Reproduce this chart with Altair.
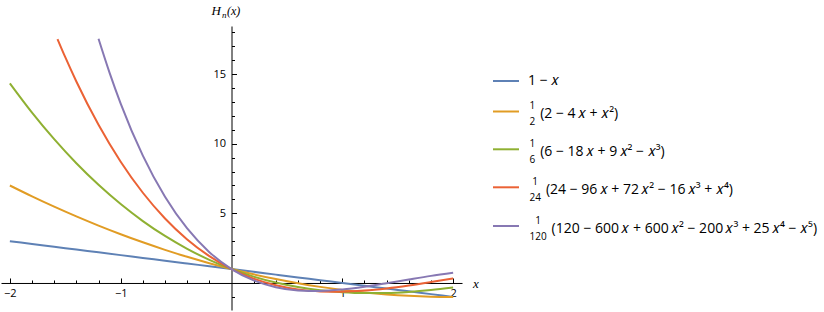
import altair as alt
import pandas as pd

# ---------------- data ----------------
x_grid = [-2.0, -1.8, -1.6, -1.4, -1.2, -1.0, -0.8, -0.6, -0.4, -0.2, 0.0,
          0.2, 0.4, 0.6, 0.8, 1.0, 1.2, 1.4, 1.6, 1.8, 2.0]
l1 = [3.0, 2.8, 2.6, 2.4, 2.2, 2.0, 1.8, 1.6, 1.4, 1.2, 1.0,
      0.8, 0.6, 0.4, 0.2, 0.0, -0.2, -0.4, -0.6, -0.8, -1.0]
l2 = [7.0, 6.22, 5.48, 4.78, 4.12, 3.5, 2.92, 2.38, 1.88, 1.42, 1.0,
      0.62, 0.28, -0.02, -0.28, -0.5, -0.68, -0.82, -0.92, -0.98, -1.0]
l3 = [14.333, 12.232, 10.323, 8.597, 7.048, 5.667, 4.445, 3.376, 2.451, 1.661, 1.0,
      0.459, 0.029, -0.296, -0.525, -0.667, -0.728, -0.717, -0.643, -0.512, -0.333]
x_l4 = [-1.57, -1.5, -1.4, -1.2, -1.0, -0.8, -0.6, -0.4, -0.2, 0.0,
        0.2, 0.4, 0.6, 0.8, 1.0, 1.2, 1.4, 1.6, 1.8, 2.0]
l4 = [17.51, 16.211, 14.469, 11.358, 8.708, 6.478, 4.629, 3.124, 1.925, 1.0,
      0.315, -0.162, -0.459, -0.604, -0.625, -0.546, -0.389, -0.178, 0.069, 0.333]
x_l5 = [-1.2, -1.1, -1.0, -0.8, -0.6, -0.4, -0.2, 0.0,
        0.2, 0.4, 0.6, 0.8, 1.0, 1.2, 1.4, 1.6, 1.8, 2.0]
l5 = [17.533, 15.087, 12.883, 9.141, 6.188, 3.912, 2.214, 1.0,
      0.187, -0.301, -0.534, -0.571, -0.467, -0.269, -0.018, 0.251, 0.510, 0.733]

series_ids = ["n1", "n2", "n3", "n4", "n5"]
colors = ["#5E81B5", "#E19C24", "#8FB032", "#EB6235", "#8778B3"]
legend_num = ["", "1", "1", "1", "1"]
legend_den = ["", "2", "6", "24", "120"]
X = "\u2009\U0001D465"
legend_expr = [
    "1 \u2212 \U0001D465",
    "(2 \u2212 4" + X + " + \U0001D465\u00b2)",
    "(6 \u2212 18" + X + " + 9" + X + "\u00b2 \u2212 \U0001D465\u00b3)",
    "(24 \u2212 96" + X + " + 72" + X + "\u00b2 \u2212 16" + X + "\u00b3 + \U0001D465\u2074)",
    "(120 \u2212 600" + X + " + 600" + X + "\u00b2 \u2212 200" + X + "\u00b3 + 25" + X + "\u2074 \u2212 \U0001D465\u2075)",
]
x_major = [-2, -1, 1, 2]
x_minor = [-1.8, -1.6, -1.4, -1.2, -0.8, -0.6, -0.4, -0.2,
           0.2, 0.4, 0.6, 0.8, 1.2, 1.4, 1.6, 1.8]
y_major = [5, 10, 15]
y_minor = [-1, 1, 2, 3, 4, 6, 7, 8, 9, 11, 12, 13, 14, 16, 17, 18]

rows = []
for sid, xs_, ys_ in zip(series_ids, [x_grid, x_grid, x_grid, x_l4, x_l5], [l1, l2, l3, l4, l5]):
    for a, b in zip(xs_, ys_):
        rows.append({"series": sid, "x": a, "y": b})
df = pd.DataFrame(rows)

# ---------------- geometry ----------------
XMIN, XMAX = -2.08, 2.08
YMIN, YMAX = -1.94, 18.45
W, H = 461, 284
PL, PT = 1, 26
x0 = (0 - XMIN) / (XMAX - XMIN) * W
y0 = H - (0 - YMIN) / (YMAX - YMIN) * H

xs = alt.Scale(domain=[XMIN, XMAX], nice=False, zero=False)
ys = alt.Scale(domain=[YMIN, YMAX], nice=False, zero=False)

FONT = "Open Sans"
SERIF = "Liberation Serif"

lines = alt.Chart(df).mark_line(strokeWidth=2, interpolate="monotone").encode(
    x=alt.X("x:Q", scale=xs, axis=None),
    y=alt.Y("y:Q", scale=ys, axis=None),
    color=alt.Color("series:N", scale=alt.Scale(domain=series_ids, range=colors), legend=None),
)

base = alt.Chart(df).mark_point(opacity=0)
common = dict(grid=False, title=None, domainColor="black", tickColor="black",
              domainWidth=1, tickWidth=1)

axis_labels = base.encode(
    x=alt.X("x:Q", scale=xs, axis=alt.Axis(
        orient="bottom", offset=y0 - H, values=x_major, ticks=False, domain=False,
        labelPadding=5, labelFont=FONT, labelFontSize=11, labelColor="black",
        labelFlush=False, labelOverlap=False, **common)),
    y=alt.Y("y:Q", scale=ys, axis=alt.Axis(
        orient="left", offset=-x0, values=y_major, ticks=False, domain=False,
        labelPadding=6, labelFont=FONT, labelFontSize=11, labelColor="black",
        labelFlush=False, labelOverlap=False, **common)),
)
axis_major = base.encode(
    x=alt.X("x:Q", scale=xs, axis=alt.Axis(
        orient="top", offset=-y0, values=x_major, tickSize=5, labels=False, domain=True, **common)),
    y=alt.Y("y:Q", scale=ys, axis=alt.Axis(
        orient="right", offset=x0 - W, values=y_major, tickSize=5, labels=False, domain=True, **common)),
)
axis_minor = base.encode(
    x=alt.X("x:Q", scale=xs, axis=alt.Axis(
        orient="top", offset=-y0, values=x_minor, tickSize=3, labels=False, domain=False, **common)),
    y=alt.Y("y:Q", scale=ys, axis=alt.Axis(
        orient="right", offset=x0 - W, values=y_minor, tickSize=3, labels=False, domain=False, **common)),
)

one = alt.Data(values=[{"k": 0}])


def txt(s, px, py, size, font=FONT, style="normal", align="left", baseline="middle"):
    return alt.Chart(one).mark_text(
        text=s, font=font, fontSize=size, fontStyle=style, align=align,
        baseline=baseline, color="black").encode(x=alt.value(px - PL), y=alt.value(py - PT))


layers = [axis_labels, axis_major, axis_minor, lines]

# axis titles
layers.append(txt("H", 211.5, 11, 13, SERIF, "italic"))
layers.append(txt("n", 222, 14.5, 9, SERIF, "italic"))
layers.append(txt("(x)", 227, 11, 12, SERIF, "italic"))
layers.append(txt("x", 473, 284, 13, SERIF, "italic"))

# legend
row_y = [81, 111.5, 149.3, 187.3, 226]
for i in range(5):
    sy = row_y[i]
    layers.append(alt.Chart(one).mark_rule(color=colors[i], strokeWidth=2).encode(
        x=alt.value(493 - PL), x2=alt.value(519 - PL), y=alt.value(sy - PT)))
    if legend_den[i]:
        dw = len(legend_den[i]) * 5.7
        cx = 529.5 + dw / 2
        layers.append(txt(legend_num[i], cx, sy - 5.5, 10, align="center"))
        layers.append(txt(legend_den[i], cx, sy + 10.5, 10, align="center"))
        ex = 529.5 + dw + 5
        layers.append(txt(legend_expr[i], ex, sy + 2.5, 14))
    else:
        layers.append(txt(legend_expr[i], 528, sy, 14))

chart = alt.layer(*layers).resolve_axis(x="independent", y="independent").properties(
    width=W, height=H,
    autosize=alt.AutoSizeParams(type="none"),
    padding={"left": PL, "top": PT, "right": 824 - PL - W, "bottom": 312 - PT - H},
).configure_view(stroke=None)

chart.save("out.html", embed_options={"renderer": "svg", "actions": False})
